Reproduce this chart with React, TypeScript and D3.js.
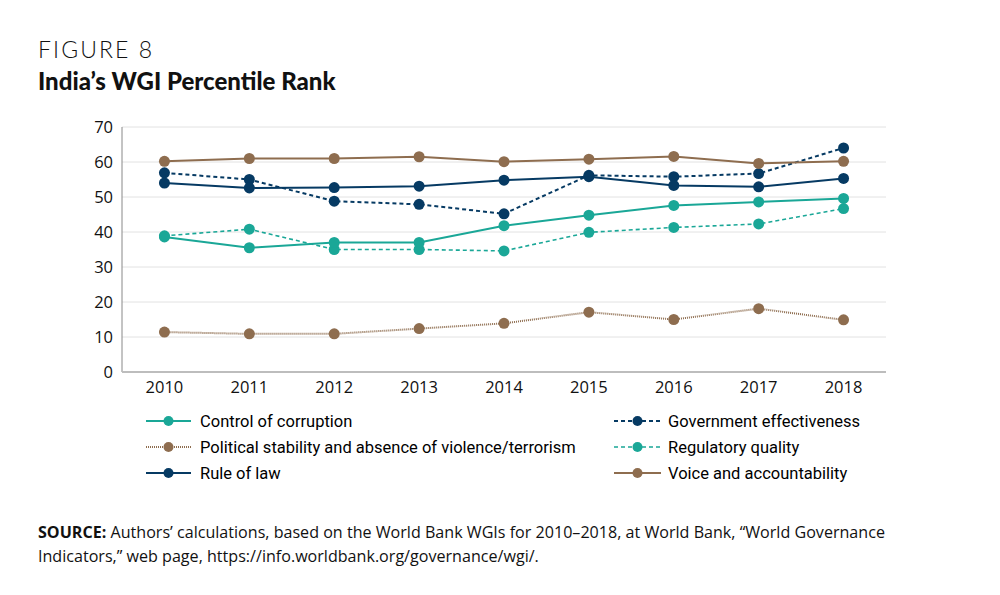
import * as d3 from 'd3';

const years = ['2010', '2011', '2012', '2013', '2014', '2015', '2016', '2017', '2018'];
const yTicks = [0, 10, 20, 30, 40, 50, 60, 70];

const controlOfCorruption = [38.6, 35.5, 37.0, 37.0, 41.8, 44.8, 47.6, 48.6, 49.6];
const governmentEffectiveness = [56.9, 55.0, 48.8, 47.9, 45.2, 56.2, 55.8, 56.7, 64.0];
const politicalStability = [11.4, 10.9, 10.9, 12.4, 13.9, 17.1, 15.0, 18.1, 14.9];
const regulatoryQuality = [38.9, 40.8, 35.0, 35.0, 34.6, 39.9, 41.3, 42.3, 46.7];
const ruleOfLaw = [54.0, 52.6, 52.7, 53.1, 54.8, 55.8, 53.3, 52.9, 55.3];
const voiceAccountability = [60.2, 61.0, 61.0, 61.5, 60.1, 60.8, 61.6, 59.6, 60.2];

const TEAL = '#1aa797';
const NAVY = '#063a63';
const BROWN = '#8e6d4f';

const series = [
  { name: 'Control of corruption', values: controlOfCorruption, color: TEAL, dash: null, width: 2 },
  { name: 'Government effectiveness', values: governmentEffectiveness, color: NAVY, dash: '4,3', width: 2 },
  { name: 'Political stability and absence of violence/terrorism', values: politicalStability, color: BROWN, dash: '1,1', width: 2 },
  { name: 'Regulatory quality', values: regulatoryQuality, color: TEAL, dash: '4,3', width: 1.6 },
  { name: 'Rule of law', values: ruleOfLaw, color: NAVY, dash: null, width: 2 },
  { name: 'Voice and accountability', values: voiceAccountability, color: BROWN, dash: null, width: 2 },
];

// draw order so the solid lines sit on top like the original
const drawOrder = [2, 3, 0, 1, 4, 5];

const W = 1000;
const H = 595;
const plot = { left: 122, right: 886, top: 127, bottom: 372 };

export default function App() {
  const x = d3.scaleBand().domain(years).range([plot.left, plot.right]);
  const y = d3.scaleLinear().domain([0, 70]).range([plot.bottom, plot.top]);
  const cx = (yr: string) => (x(yr) as number) + x.bandwidth() / 2;

  const line = d3
    .line<number>()
    .x((_, i) => cx(years[i]))
    .y((d) => y(d));

  const legendRows = [421, 447, 473];
  const legendCols = [
    { x1: 146, x2: 191, text: 200 },
    { x1: 614, x2: 661, text: 668 },
  ];

  return (
    <div style={{ position: 'absolute', left: 0, top: 0 }}>
      <svg width={W} height={H} style={{ display: 'block', background: '#fff' }}>
        <text x={38} y={58} fontFamily="Lato" fontWeight={300} fontSize={23} letterSpacing={2.1} fill="#111">
          FIGURE 8
        </text>
        <text x={38} y={90} fontFamily="Lato" fontWeight={900} fontSize={24} fill="#111">
          India’s WGI Percentile Rank
        </text>

        {/* gridlines */}
        {yTicks.filter((t) => t > 0).map((t) => (
          <line key={t} x1={plot.left} x2={plot.right} y1={y(t)} y2={y(t)} stroke="#e2e2e2" strokeWidth={1} />
        ))}
        <line x1={plot.left} x2={plot.left} y1={plot.top} y2={plot.bottom} stroke="#888" strokeWidth={1} />
        <line x1={plot.left} x2={plot.right} y1={plot.bottom} y2={plot.bottom} stroke="#bdbdbd" strokeWidth={2} />

        {yTicks.map((t) => (
          <text key={t} x={113} y={y(t)} dy="0.35em" textAnchor="end" fontFamily="Open Sans" fontSize={16.5} fill="#111">
            {t}
          </text>
        ))}
        {years.map((yr) => (
          <text key={yr} x={cx(yr)} y={393} textAnchor="middle" fontFamily="Open Sans" fontSize={16.5} fill="#111">
            {yr}
          </text>
        ))}

        {drawOrder.map((i) => {
          const s = series[i];
          return (
            <g key={s.name}>
              <path
                d={line(s.values) as string}
                fill="none"
                stroke={s.color}
                strokeWidth={s.width}
                strokeDasharray={s.dash ?? undefined}
              />
              {s.values.map((v, j) => (
                <circle key={j} cx={cx(years[j])} cy={y(v)} r={5.5} fill={s.color} />
              ))}
            </g>
          );
        })}

        {/* legend, two columns, filled row by row */}
        {series.map((s, i) => {
          const col = legendCols[i % 2];
          const ry = legendRows[Math.floor(i / 2)];
          return (
            <g key={s.name}>
              <line
                x1={col.x1}
                x2={col.x2}
                y1={ry}
                y2={ry}
                stroke={s.color}
                strokeWidth={s.width}
                strokeDasharray={s.dash ?? undefined}
              />
              <circle cx={(col.x1 + col.x2) / 2} cy={ry} r={5} fill={s.color} />
              <text x={col.text} y={ry} dy="0.35em" fontFamily="Roboto" fontSize={16.5} fill="#000">
                {s.name}
              </text>
            </g>
          );
        })}

        <text x={38} y={538} fontFamily="Open Sans" fontSize={16.1} fill="#111">
          <tspan fontWeight={700}>SOURCE:</tspan> Authors’ calculations, based on the World Bank WGIs for 2010–2018, at World Bank, “World Governance
        </text>
        <text x={38} y={562} fontFamily="Open Sans" fontSize={16.1} fill="#111">
          Indicators,” web page, https://info.worldbank.org/governance/wgi/.
        </text>
      </svg>
    </div>
  );
}
